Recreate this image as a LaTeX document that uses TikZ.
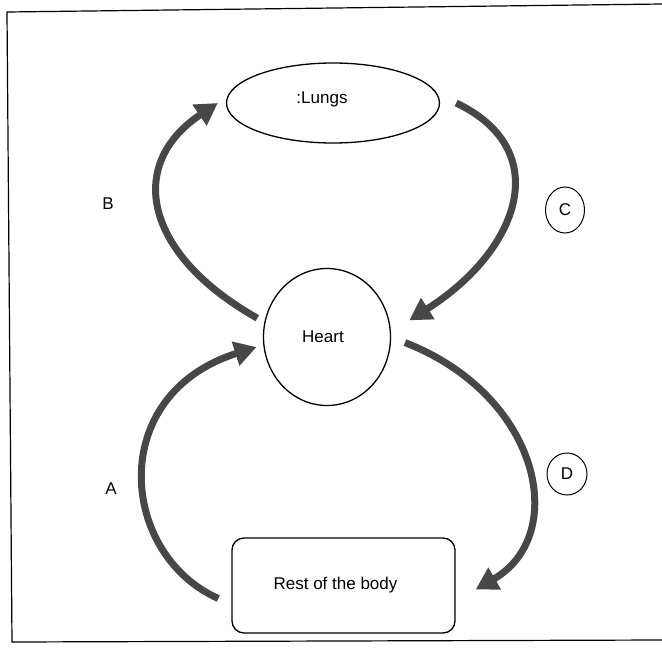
\documentclass[tikz,border=0pt]{standalone}
\usepackage{fontspec}
\setmainfont{Liberation Sans}
\usetikzlibrary{shapes.geometric,arrows.meta}

\begin{document}
\begin{tikzpicture}[x=1pt,y=-1pt,
    organ/.style={draw,line width=1.3pt,inner sep=0pt},
    tag/.style={font=\fontsize{17}{20}\selectfont},
    flow/.style={line width=7pt,draw=black!72,-{Triangle[length=22pt,width=24pt]}}]
    \useasboundingbox (0,0) rectangle (662,648);
    \draw[line width=1.2pt] (662,4) -- (7,12) -- (12,642) -- (662,640);

    \node[organ,ellipse,minimum width=213pt,minimum height=80pt] (lungs) at (333,103) {};
    \node[organ,ellipse,minimum width=127pt,minimum height=137pt] (heart) at (327,337) {};
    \node[organ,rectangle,rounded corners=12pt,minimum width=223pt,minimum height=95pt] (body) at (343.5,585.5) {};
    \node[tag] (lungstext) at ([xshift=-11pt,yshift=4pt]lungs.center) {:Lungs};
    \node[tag] (hearttext) at ([xshift=-4pt]heart.center) {Heart};
    \node[tag] (bodytext) at ([xshift=-8pt]body.center) {Rest of the body};

    \draw[flow] ([xshift=-8pt]heart.163) .. controls (145,255) and (125,165) .. ([xshift=-8pt]lungs.west);
    \draw[flow] ([xshift=16pt]lungs.east) .. controls (555,150) and (520,250) .. ([xshift=20pt]heart.15);
    \draw[flow] ([xshift=14pt]heart.-5) .. controls (540,395) and (570,535) .. ([xshift=20pt,yshift=-4pt]body.east);
    \draw[flow] ([xshift=-13pt,yshift=-13pt]body.west) .. controls (120,555) and (105,395) .. ([xshift=-7pt]heart.189);

    \node[tag] (tagB) at (108,204) {B};
    \node[tag] (tagA) at (111,489) {A};
    \node[tag,draw,ellipse,line width=1pt,minimum width=39pt,minimum height=46pt,inner sep=0pt] (tagC) at (565,210) {C};
    \node[tag,draw,ellipse,line width=1pt,minimum width=40pt,minimum height=42pt,inner sep=0pt] (tagD) at (567,474) {D};
  \end{tikzpicture}
\end{document}
